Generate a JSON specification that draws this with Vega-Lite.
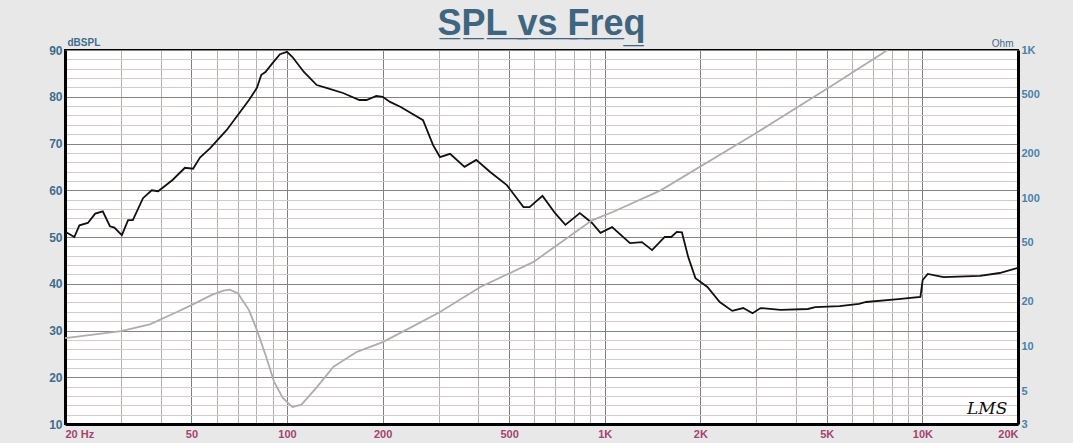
{
  "$schema": "https://vega.github.io/schema/vega-lite/v6.json",
  "width": 953,
  "height": 374,
  "autosize": {"type": "none"},
  "padding": {"left": 65, "top": 50, "right": 55, "bottom": 19},
  "background": "#e8e8e8",
  "title": {
    "text": "S̲P̲L̲ ̲v̲s̲ ̲F̲r̲e̲q̲",
    "font": "Liberation Sans",
    "fontSize": 36,
    "fontWeight": "bold",
    "color": "#3e6680",
    "anchor": "middle",
    "offset": -6
  },
  "config": {
    "view": {"fill": "white", "stroke": "black", "strokeWidth": 2},
    "axis": {
      "labelFont": "Liberation Sans",
      "labelFontWeight": "bold",
      "labelFontSize": 11,
      "ticks": false,
      "labelOverlap": false,
      "domainColor": "black",
      "domainWidth": 3,
      "tickCount": 200
    }
  },
  "datasets": {
    "spl": [
      {"f": 20.0, "v": 50.6}, {"f": 20.3, "v": 50.9}, {"f": 21.4, "v": 50.0}, {"f": 22.2, "v": 52.5},
      {"f": 23.6, "v": 53.0}, {"f": 24.9, "v": 55.0}, {"f": 26.3, "v": 55.5}, {"f": 27.7, "v": 52.3},
      {"f": 28.6, "v": 52.0}, {"f": 30.2, "v": 50.4}, {"f": 31.6, "v": 53.6}, {"f": 32.7, "v": 53.6},
      {"f": 35.2, "v": 58.3}, {"f": 37.5, "v": 60.0}, {"f": 39.3, "v": 59.8}, {"f": 43.6, "v": 62.2},
      {"f": 47.7, "v": 64.8}, {"f": 50.6, "v": 64.6}, {"f": 53.2, "v": 67.0}, {"f": 57.3, "v": 69.0},
      {"f": 64.6, "v": 72.9}, {"f": 75.9, "v": 79.3}, {"f": 80.4, "v": 81.9}, {"f": 83.0, "v": 84.7},
      {"f": 85.5, "v": 85.3}, {"f": 90.0, "v": 87.2}, {"f": 95.0, "v": 89.1}, {"f": 100.0, "v": 89.6},
      {"f": 104.0, "v": 88.5}, {"f": 113.0, "v": 85.3}, {"f": 124.0, "v": 82.5}, {"f": 133.0, "v": 81.9},
      {"f": 150.0, "v": 80.8}, {"f": 169.0, "v": 79.3}, {"f": 178.0, "v": 79.3}, {"f": 191.0, "v": 80.2},
      {"f": 200.0, "v": 80.0}, {"f": 211.0, "v": 78.9}, {"f": 228.0, "v": 77.8}, {"f": 268.0, "v": 75.0},
      {"f": 288.0, "v": 69.7}, {"f": 303.0, "v": 67.1}, {"f": 326.0, "v": 67.8}, {"f": 362.0, "v": 65.0},
      {"f": 394.0, "v": 66.5}, {"f": 436.0, "v": 63.9}, {"f": 492.0, "v": 61.1}, {"f": 555.0, "v": 56.4},
      {"f": 580.0, "v": 56.4}, {"f": 637.0, "v": 58.8}, {"f": 698.0, "v": 55.1}, {"f": 752.0, "v": 52.6},
      {"f": 835.0, "v": 55.1}, {"f": 912.0, "v": 53.0}, {"f": 970.0, "v": 50.9}, {"f": 1055.0, "v": 52.1},
      {"f": 1201.0, "v": 48.7}, {"f": 1310.0, "v": 48.9}, {"f": 1410.0, "v": 47.2}, {"f": 1545.0, "v": 50.0},
      {"f": 1620.0, "v": 50.0}, {"f": 1686.0, "v": 51.1}, {"f": 1750.0, "v": 51.0}, {"f": 1832.0, "v": 45.7},
      {"f": 1930.0, "v": 41.2}, {"f": 2105.0, "v": 39.3}, {"f": 2302.0, "v": 36.1}, {"f": 2520.0, "v": 34.2},
      {"f": 2730.0, "v": 34.8}, {"f": 2920.0, "v": 33.7}, {"f": 3094.0, "v": 34.8}, {"f": 3578.0, "v": 34.4},
      {"f": 4360.0, "v": 34.6}, {"f": 4600.0, "v": 35.0}, {"f": 5488.0, "v": 35.2}, {"f": 6316.0, "v": 35.7},
      {"f": 6653.0, "v": 36.1}, {"f": 8400.0, "v": 36.7}, {"f": 9860.0, "v": 37.2}, {"f": 10020.0, "v": 40.8},
      {"f": 10400.0, "v": 42.1}, {"f": 11650.0, "v": 41.4}, {"f": 15180.0, "v": 41.7}, {"f": 17500.0, "v": 42.3},
      {"f": 20000.0, "v": 43.4}
    ],
    "imp": [
      {"f": 20, "z": 11.4}, {"f": 30, "z": 12.7}, {"f": 37, "z": 14.1}, {"f": 45, "z": 17.1},
      {"f": 50, "z": 19.0}, {"f": 58, "z": 22.3}, {"f": 63, "z": 23.8}, {"f": 66, "z": 24.2},
      {"f": 70, "z": 22.9}, {"f": 75.9, "z": 17.6}, {"f": 80.4, "z": 12.9}, {"f": 86, "z": 8.5},
      {"f": 91, "z": 5.8}, {"f": 97, "z": 4.5}, {"f": 104, "z": 3.9}, {"f": 111, "z": 4.05},
      {"f": 124, "z": 5.3}, {"f": 140, "z": 7.3}, {"f": 166, "z": 9.2}, {"f": 200, "z": 10.7},
      {"f": 243, "z": 13.3}, {"f": 303, "z": 17.1}, {"f": 406, "z": 25.2}, {"f": 597, "z": 37.2},
      {"f": 912, "z": 71}, {"f": 1060, "z": 80.8}, {"f": 1500, "z": 113}, {"f": 3025, "z": 279},
      {"f": 5140, "z": 568}, {"f": 7770, "z": 1000}
    ],
    "note": [{"f": 16000, "v": 13.2, "t": "LMS"}]
  },
  "layer": [
    {
      "layer": [
        {
          "data": {"name": "spl"},
          "mark": {"type": "line", "color": "#111111", "strokeWidth": 1.8, "clip": true},
          "encoding": {
            "x": {
              "field": "f", "type": "quantitative",
              "scale": {"type": "log", "domain": [20, 20000], "nice": false},
              "axis": {
                "title": null,
                "tickCount": 200,
                "values": [20,30,40,50,60,70,80,90,100,200,300,400,500,600,700,800,900,1000,2000,3000,4000,5000,6000,7000,8000,9000,10000,20000],
                "labelExpr": "datum.value==20 ? '20  Hz' : datum.value==50 ? '50' : datum.value==100 ? '100' : datum.value==200 ? '200' : datum.value==500 ? '500' : datum.value==1000 ? '1K' : datum.value==2000 ? '2K' : datum.value==5000 ? '5K' : datum.value==10000 ? '10K' : datum.value==20000 ? '20K' : ''",
                "labelFlush": true,
                "labelColor": "#a5426e",
                "labelPadding": 4,
                "grid": true,
                "gridColor": {"condition": {"test": "indexof([50,100,200,500,1000,2000,5000,10000], datum.value) >= 0", "value": "#808080"}, "value": "#b4b0b0"},
                "gridWidth": 1
              }
            },
            "y": {
              "field": "v", "type": "quantitative",
              "scale": {"domain": [10, 90], "nice": false, "zero": false},
              "axis": {
                "orient": "left",
                "tickCount": 200,
                "values": [10,12,14,16,18,20,22,24,26,28,30,32,34,36,38,40,42,44,46,48,50,52,54,56,58,60,62,64,66,68,70,72,74,76,78,80,82,84,86,88,90],
                "labelExpr": "datum.value % 10 == 0 ? format(datum.value, 'd') : ''",
                "labelColor": "#3f6d8e",
                "labelPadding": 3,
                "labelFontSize": 12,
                "grid": true,
                "gridColor": {"condition": {"test": "datum.value % 10 == 0", "value": "#8c8080"}, "value": "#dcc8c8"},
                "title": "dBSPL",
                "titleAngle": 0,
                "titleX": 2,
                "titleY": -3,
                "titleAlign": "left",
                "titleBaseline": "bottom",
                "titleFont": "Liberation Sans",
                "titleFontSize": 10,
                "titleFontWeight": "bold",
                "titleColor": "#3f6d8e"
              }
            }
          }
        },
        {
          "data": {"name": "note"},
          "mark": {"type": "text", "font": "DejaVu Serif", "fontStyle": "italic", "fontSize": 17, "color": "#111111"},
          "encoding": {
            "x": {"field": "f", "type": "quantitative"},
            "y": {"field": "v", "type": "quantitative"},
            "text": {"field": "t"}
          }
        }
      ]
    },
    {
      "data": {"name": "imp"},
      "mark": {"type": "line", "color": "#adadad", "strokeWidth": 1.8, "clip": true},
      "encoding": {
        "x": {"field": "f", "type": "quantitative"},
        "y": {
          "field": "z", "type": "quantitative",
          "scale": {"type": "log", "domain": [3, 1000], "nice": false},
          "axis": {
            "orient": "right",
            "tickCount": 200,
            "values": [3,5,10,20,50,100,200,500,1000],
            "labelExpr": "datum.value == 1000 ? '1K' : format(datum.value, 'd')",
            "labelColor": "#4a82ab",
            "labelPadding": 3,
            "grid": false,
            "title": "Ohm",
            "titleAngle": 0,
            "titleX": -5,
            "titleY": -2,
            "titleAlign": "right",
            "titleBaseline": "bottom",
            "titleFont": "Liberation Sans",
            "titleFontSize": 10,
            "titleFontWeight": "normal",
            "titleColor": "#3f6d8e"
          }
        }
      }
    }
  ],
  "resolve": {"scale": {"y": "independent"}}
}
